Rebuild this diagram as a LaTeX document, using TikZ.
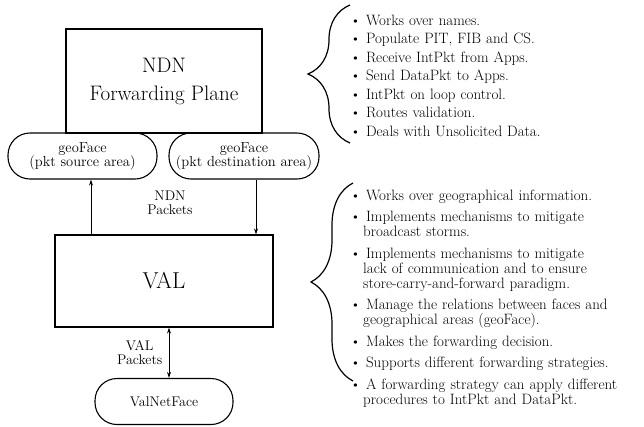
\documentclass[tikz,border=0pt]{standalone}
\usetikzlibrary{positioning,calc,arrows.meta,decorations.pathreplacing}
\newenvironment{featlist}[1][3.5pt]{\begin{list}{\textbullet}{%
  \setlength{\leftmargin}{13pt}\setlength{\labelsep}{5pt}%
  \setlength{\labelwidth}{8pt}\setlength{\itemsep}{#1}%
  \setlength{\parsep}{0pt}\setlength{\topsep}{0pt}%
  \setlength{\partopsep}{0pt}}}{\end{list}}
\tikzset{
  block/.style={draw, line width=1.2pt, align=center, inner sep=2pt},
  face/.style={draw, line width=1.1pt, rounded corners=22pt, align=center,
               minimum height=46pt, inner sep=1pt,
               font=\fontsize{14.5}{14}\selectfont},
  flow/.style={-{Stealth[length=6pt,width=4pt]}, line width=0.8pt},
  both/.style={{Stealth[length=6pt,width=4pt]}-{Stealth[length=6pt,width=4pt]},
               line width=0.8pt},
  curly/.style={decorate, decoration={brace, amplitude=42pt, mirror},
                line width=1.2pt},
  notes/.style={anchor=north west, text width=300pt, inner sep=0pt,
                font=\fontsize{15}{15}\selectfont},
  tag/.style={align=center, font=\fontsize{14}{14}\selectfont},
}

\begin{document}
\begin{tikzpicture}[x=1pt, y=-1pt]
  \useasboundingbox (0,0) rectangle (644,426);

  % left column: planes and faces
  \node[block, minimum width=196pt, minimum height=104pt,
        font=\fontsize{21}{28}\selectfont] (ndn) at (164,81)
    {NDN\\Forwarding Plane};
  \node[face, minimum width=149pt] (src) at (82.5,156) {geoFace\\(pkt source area)};
  \node[face, minimum width=150pt] (dst) at (244,156) {geoFace\\(pkt destination area)};
  \node[block, minimum width=218pt, minimum height=92pt,
        font=\fontsize{23}{26}\selectfont] (val) at (164,281) {VAL};
  \node[face, minimum width=138pt, font=\fontsize{14}{14}\selectfont]
    (vnf) at (164,401.5) {ValNetFace};

  \draw[flow] ([xshift=8.5pt]src.south |- val.north) -- ([xshift=8.5pt]src.south);
  \draw[flow] ([xshift=12pt]dst.south) -- ([xshift=12pt]dst.south |- val.north);
  \node[tag] (pktndn) at (170,203) {NDN\\Packets};
  \draw[both] ([xshift=5pt]val.south) -- node[tag, left=3pt] (pktval)
    {VAL\\Packets} ([xshift=5pt]vnf.north);

  % right column: braces and notes
  \coordinate (ntop) at (350,5);
  \coordinate (nbot) at (350,143);
  \coordinate (vtop) at (353,183);
  \coordinate (vbot) at (353,381);
  \draw[curly] (ntop) -- (nbot);
  \draw[curly] (vtop) -- (vbot);

  \node[notes] (ndnnotes) at (350,10) {\begin{featlist}
    \item Works over names.
    \item Populate PIT, FIB and CS.
    \item Receive IntPkt from Apps.
    \item Send DataPkt to Apps.
    \item IntPkt on loop control.
    \item Routes validation.
    \item Deals with Unsolicited Data.
  \end{featlist}};
  \node[notes] (valnotes) at (350,185) {\begin{featlist}[6.5pt]
    \item Works over geographical information.
    \item Implements mechanisms to mitigate\newline broadcast storms.
    \item Implements mechanisms to mitigate\newline lack of communication and to ensure\newline store-carry-and-forward paradigm.
    \item Manage the relations between faces and\newline geographical areas (geoFace).
    \item Makes the forwarding decision.
    \item Supports different forwarding strategies.
    \item A forwarding strategy can apply different\newline procedures to IntPkt and DataPkt.
  \end{featlist}};
\end{tikzpicture}
\end{document}
